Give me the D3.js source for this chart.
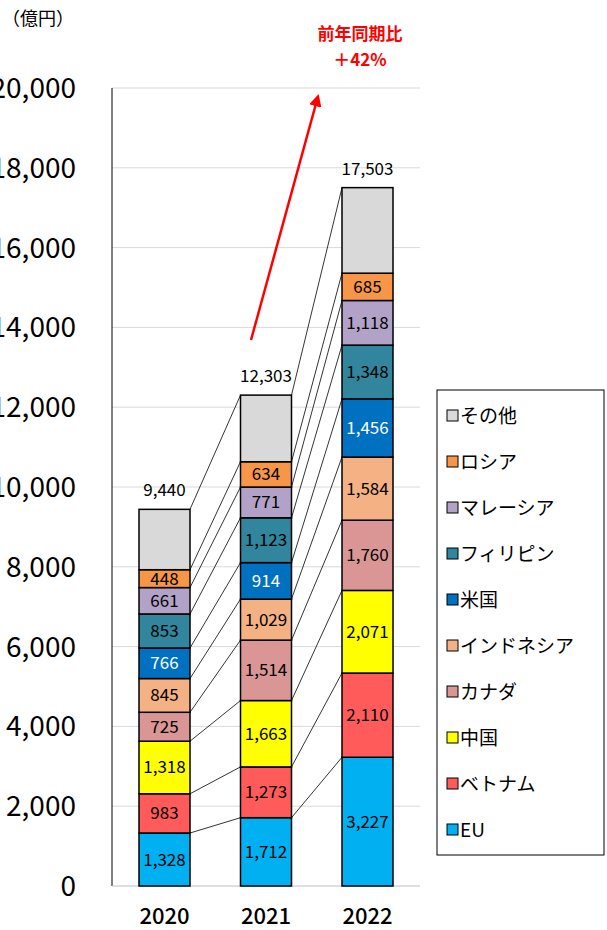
<!DOCTYPE html><html><head><meta charset="utf-8">
<script src="https://cdn.jsdelivr.net/npm/d3@7"></script>
<style>body{margin:0;background:#fff;overflow:hidden}text{font-family:"Noto Sans CJK JP",sans-serif}</style></head><body>
<svg id="c" width="607" height="930"></svg>
<script>
const years=["2020","2021","2022"];
const series=["EU","ベトナム","中国","カナダ","インドネシア","米国","フィリピン","マレーシア","ロシア","その他"];
const colors=["#00B0F0","#FF5B5B","#FFFF00","#D99694","#F4B183","#0070C0","#31859C","#B3A2C7","#F79646","#D9D9D9"];
const values=[[1328,1712,3227],[983,1273,2110],[1318,1663,2071],[725,1514,1760],[845,1029,1584],[766,914,1456],[853,1123,1348],[661,771,1118],[448,634,685],[1513,1670,2144]];
const totals=[9440,12303,17503];
const yTicks=d3.range(0,20001,2000);
const svg=d3.select("#c");
const y=d3.scaleLinear().domain([0,20000]).range([886,88]);
const x=d3.scalePoint().domain(years).range([164.5,367.5]);
const bw=51, cx=d=>x(d);
svg.selectAll(".g").data(yTicks.slice(1)).join("line").attr("x1",112).attr("x2",420).attr("y1",d=>y(d)).attr("y2",d=>y(d)).attr("stroke","#d9d9d9");
svg.append("line").attr("x1",112).attr("x2",112).attr("y1",88).attr("y2",886).attr("stroke","#000");
svg.append("line").attr("x1",112).attr("x2",420).attr("y1",886).attr("y2",886).attr("stroke","#bfbfbf");
svg.selectAll(".yt").data(yTicks).join("text").attr("x",76).attr("y",d=>y(d)+10).attr("text-anchor","end").attr("font-size",28).text(d=>d3.format(",")(d));
svg.selectAll(".xt").data(years).join("text").attr("x",cx).attr("y",924).attr("text-anchor","middle").attr("font-size",22).attr("font-weight","500").text(d=>d);
svg.append("text").attr("x",2).attr("y",25).attr("font-size",18).text("（億円）");
const cum=years.map((_,j)=>{let s=0;return values.map(v=>{const a=s;s+=v[j];return [a,s];});});
for(let j=0;j<2;j++){for(let i=0;i<series.length;i++){
 svg.append("line").attr("x1",cx(years[j])+bw/2).attr("x2",cx(years[j+1])-bw/2).attr("y1",y(cum[j][i][1])).attr("y2",y(cum[j+1][i][1])).attr("stroke","#000").attr("stroke-width",0.8);}}
years.forEach((yr,j)=>{series.forEach((s,i)=>{const [a,b]=cum[j][i];
 svg.append("rect").attr("x",cx(yr)-bw/2).attr("y",y(b)).attr("width",bw).attr("height",y(a)-y(b)).attr("fill",colors[i]).attr("stroke","#000").attr("stroke-width",1.5);
 if(i<9) svg.append("text").attr("x",cx(yr)).attr("y",(y(a)+y(b))/2+6).attr("text-anchor","middle").attr("font-size",17).attr("fill",i==5?"#fff":"#000").text(d3.format(",")(values[i][j]));});
 svg.append("text").attr("x",cx(yr)).attr("y",y(totals[j])-13).attr("text-anchor","middle").attr("font-size",17).text(d3.format(",")(totals[j]));});
svg.append("defs").append("marker").attr("id","ah").attr("viewBox","0 0 10 10").attr("refX",5).attr("refY",5).attr("markerWidth",5).attr("markerHeight",5).attr("orient","auto").append("path").attr("d","M0,0L10,5L0,10z").attr("fill","#f00");
svg.append("line").attr("x1",251).attr("y1",340).attr("x2",317).attr("y2",100).attr("stroke","#f00").attr("stroke-width",2.5).attr("marker-end","url(#ah)");
svg.append("text").attr("x",360).attr("y",40).attr("text-anchor","middle").attr("font-size",17).attr("font-weight","bold").attr("fill","#f00").text("前年同期比");
svg.append("text").attr("x",360).attr("y",66).attr("text-anchor","middle").attr("font-size",17).attr("font-weight","bold").attr("fill","#f00").text("＋42%");
svg.append("rect").attr("x",437).attr("y",390).attr("width",167).attr("height",465).attr("fill","#fff").attr("stroke","#000");
series.slice().reverse().forEach((s,k)=>{const i=series.length-1-k, yy=416+k*46;
 svg.append("rect").attr("x",447).attr("y",yy-6).attr("width",11).attr("height",11).attr("fill",colors[i]).attr("stroke","#000");
 svg.append("text").attr("x",460).attr("y",yy+7).attr("font-size",19).text(s);});
</script></body></html>
